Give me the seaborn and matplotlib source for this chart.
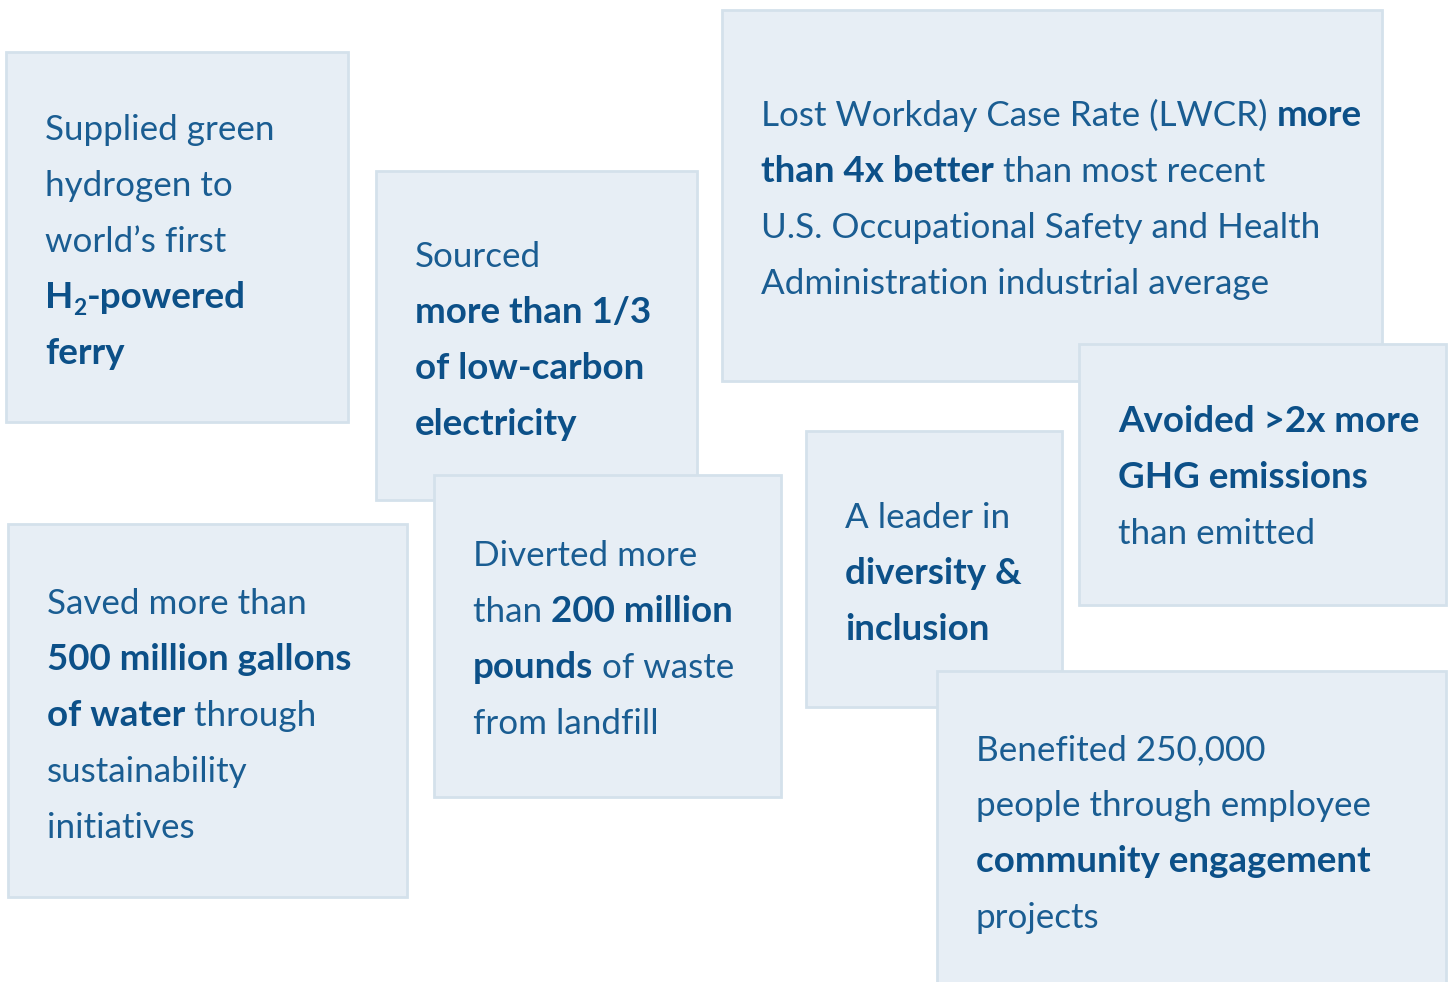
import matplotlib
matplotlib.use("Agg")
import matplotlib.pyplot as plt
import seaborn as sns
from matplotlib.patches import Rectangle

sns.set_theme(style="white")
plt.rcParams['font.family'] = ['Lato', 'DejaVu Sans']

# ---- content ----
# each card: list of lines, each line a list of (text, is_bold, is_subscript)
card_ferry = [[("Supplied green", 0, 0)],
              [("hydrogen to", 0, 0)],
              [("world\u2019s first", 0, 0)],
              [("H", 1, 0), ("2", 1, 1), ("-powered", 1, 0)],
              [("ferry", 1, 0)]]
card_sourced = [[("Sourced", 0, 0)],
                [("more than 1/3", 1, 0)],
                [("of low-carbon", 1, 0)],
                [("electricity", 1, 0)]]
card_diverted = [[("Diverted more", 0, 0)],
                 [("than ", 0, 0), ("200 million", 1, 0)],
                 [("pounds", 1, 0), (" of waste", 0, 0)],
                 [("from landfill", 0, 0)]]
card_lwcr = [[("Lost Workday Case Rate (LWCR) ", 0, 0), ("more", 1, 0)],
             [("than 4x better", 1, 0), (" than most recent", 0, 0)],
             [("U.S. Occupational Safety and Health", 0, 0)],
             [("Administration industrial average", 0, 0)]]
card_ghg = [[("Avoided >2x more", 1, 0)],
            [("GHG emissions", 1, 0)],
            [("than emitted", 0, 0)]]
card_diversity = [[("A leader in", 0, 0)],
                  [("diversity &", 1, 0)],
                  [("inclusion", 1, 0)]]
card_community = [[("Benefited 250,000", 0, 0)],
                  [("people through employee", 0, 0)],
                  [("community engagement", 1, 0)],
                  [("projects", 0, 0)]]
card_water = [[("Saved more than", 0, 0)],
              [("500 million gallons", 1, 0)],
              [("of water", 1, 0), (" through", 0, 0)],
              [("sustainability", 0, 0)],
              [("initiatives", 0, 0)]]

# ---- layout (pixels, drawing order) ----
cards = [card_ferry, card_sourced, card_diverted, card_lwcr, card_ghg,
         card_diversity, card_community, card_water]
box_x0 = [6, 376, 434, 722, 1079, 806, 937, 8]
box_y0 = [52, 171, 475, 10, 344, 431, 671, 524]
box_x1 = [348, 697, 781, 1382, 1446, 1062, 1446, 407]
box_y1 = [422, 500, 797, 381, 605, 707, 990, 897]
text_x = [45, 415, 473, 761, 1118, 845, 976, 47]
first_base = [140, 267, 566, 126, 432, 528, 760, 614]
line_gap = 56

FILL = "#E7EEF5"
EDGE = "#D4E1EB"
REG = "#1A5D92"
BOLD = "#0C5088"
FS_REG = 25.2
FS_BOLD = 26.5

fig = plt.figure(figsize=(14.48, 9.82), dpi=100)
ax = fig.add_axes([0, 0, 1, 1])
ax.set_xlim(0, 1448)
ax.set_ylim(982, 0)
ax.axis("off")

z = 1
for card, x0, y0, x1, y1, tx, fb in zip(cards, box_x0, box_y0, box_x1, box_y1,
                                         text_x, first_base):
    ax.add_patch(Rectangle((x0, y0), x1 - x0, y1 - y0, facecolor=FILL,
                           edgecolor=EDGE, linewidth=2.0, zorder=z))
    for i, line in enumerate(card):
        base = fb + i * line_gap
        prev = None
        for seg, b, sub in line:
            fs = FS_BOLD if b else FS_REG
            kw = dict(fontsize=fs * (0.62 if sub else 1.0),
                      fontweight="bold" if b else "normal",
                      color=BOLD if b else REG, va="baseline", ha="left",
                      zorder=z + 0.5)
            y = base + (7 if sub else 0)
            if prev is None:
                prev = ax.text(tx, y, seg, **kw)
            else:
                prev = ax.annotate(seg, xy=(1, y), xycoords=(prev, "data"),
                                   annotation_clip=False, **kw)
    z += 1

fig.savefig("out.png", dpi=100, facecolor="white")
